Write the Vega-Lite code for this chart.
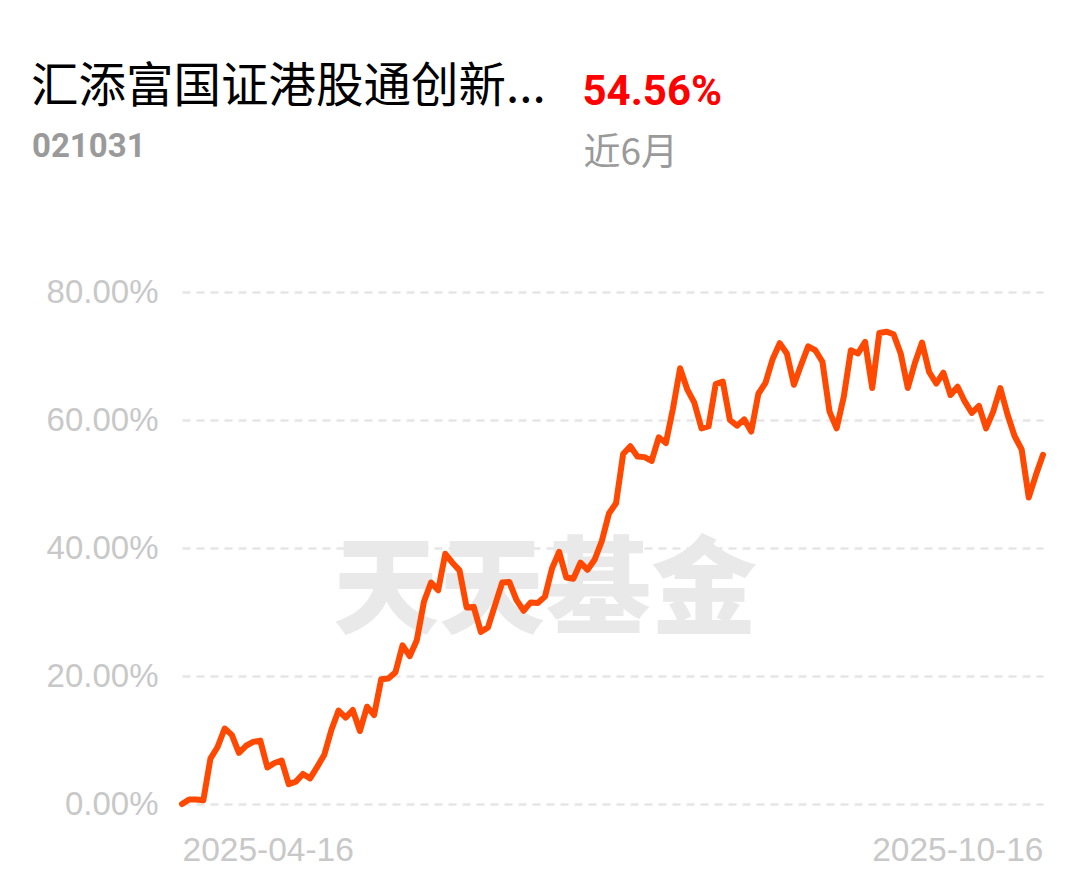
{
  "$schema": "https://vega.github.io/schema/vega-lite/v6.json",
  "width": 861,
  "height": 512,
  "autosize": {"type": "none"},
  "padding": {"left": 182, "top": 292, "right": 46, "bottom": 77},
  "background": "#ffffff",
  "config": {"view": {"stroke": null}},
  "datasets": {
    "nav": [
      {"d": "2025-04-16", "v": 0.0}, {"d": "2025-04-17", "v": 0.7}, {"d": "2025-04-18", "v": 0.7}, {"d": "2025-04-21", "v": 0.6},
      {"d": "2025-04-22", "v": 7.1}, {"d": "2025-04-23", "v": 8.9}, {"d": "2025-04-24", "v": 11.8}, {"d": "2025-04-25", "v": 10.8},
      {"d": "2025-04-28", "v": 8.0}, {"d": "2025-04-29", "v": 9.1}, {"d": "2025-04-30", "v": 9.7},
      {"d": "2025-05-06", "v": 9.9}, {"d": "2025-05-07", "v": 5.7}, {"d": "2025-05-08", "v": 6.4}, {"d": "2025-05-09", "v": 6.8},
      {"d": "2025-05-12", "v": 3.1}, {"d": "2025-05-13", "v": 3.5}, {"d": "2025-05-14", "v": 4.7}, {"d": "2025-05-15", "v": 4.0},
      {"d": "2025-05-16", "v": 5.8}, {"d": "2025-05-19", "v": 7.7}, {"d": "2025-05-20", "v": 11.6}, {"d": "2025-05-21", "v": 14.6},
      {"d": "2025-05-22", "v": 13.5}, {"d": "2025-05-23", "v": 14.7}, {"d": "2025-05-26", "v": 11.4}, {"d": "2025-05-27", "v": 15.2},
      {"d": "2025-05-28", "v": 13.9}, {"d": "2025-05-29", "v": 19.5}, {"d": "2025-05-30", "v": 19.6},
      {"d": "2025-06-03", "v": 20.6}, {"d": "2025-06-04", "v": 24.8}, {"d": "2025-06-05", "v": 23.1}, {"d": "2025-06-06", "v": 25.6},
      {"d": "2025-06-09", "v": 31.6}, {"d": "2025-06-10", "v": 34.6}, {"d": "2025-06-11", "v": 33.4}, {"d": "2025-06-12", "v": 39.1},
      {"d": "2025-06-13", "v": 37.7}, {"d": "2025-06-16", "v": 36.5}, {"d": "2025-06-17", "v": 30.7}, {"d": "2025-06-18", "v": 30.8},
      {"d": "2025-06-19", "v": 26.9}, {"d": "2025-06-20", "v": 27.6}, {"d": "2025-06-23", "v": 31.1}, {"d": "2025-06-24", "v": 34.6},
      {"d": "2025-06-25", "v": 34.7}, {"d": "2025-06-26", "v": 31.9}, {"d": "2025-06-27", "v": 30.2}, {"d": "2025-06-30", "v": 31.5},
      {"d": "2025-07-01", "v": 31.4}, {"d": "2025-07-02", "v": 32.4}, {"d": "2025-07-03", "v": 36.8}, {"d": "2025-07-04", "v": 39.4},
      {"d": "2025-07-07", "v": 35.4}, {"d": "2025-07-08", "v": 35.2}, {"d": "2025-07-09", "v": 37.7}, {"d": "2025-07-10", "v": 36.6},
      {"d": "2025-07-11", "v": 38.2}, {"d": "2025-07-14", "v": 41.1}, {"d": "2025-07-15", "v": 45.4}, {"d": "2025-07-16", "v": 47.0},
      {"d": "2025-07-17", "v": 54.7}, {"d": "2025-07-18", "v": 55.9}, {"d": "2025-07-21", "v": 54.3}, {"d": "2025-07-22", "v": 54.2},
      {"d": "2025-07-23", "v": 53.6}, {"d": "2025-07-24", "v": 57.3}, {"d": "2025-07-25", "v": 56.4}, {"d": "2025-07-28", "v": 61.8},
      {"d": "2025-07-29", "v": 68.1}, {"d": "2025-07-30", "v": 64.8}, {"d": "2025-07-31", "v": 62.7},
      {"d": "2025-08-01", "v": 58.7}, {"d": "2025-08-04", "v": 59.0}, {"d": "2025-08-05", "v": 65.6}, {"d": "2025-08-06", "v": 66.0},
      {"d": "2025-08-07", "v": 60.0}, {"d": "2025-08-08", "v": 59.1}, {"d": "2025-08-11", "v": 60.1}, {"d": "2025-08-12", "v": 58.2},
      {"d": "2025-08-13", "v": 64.1}, {"d": "2025-08-14", "v": 65.8}, {"d": "2025-08-15", "v": 69.5}, {"d": "2025-08-18", "v": 72.0},
      {"d": "2025-08-19", "v": 70.4}, {"d": "2025-08-20", "v": 65.5}, {"d": "2025-08-21", "v": 68.6}, {"d": "2025-08-22", "v": 71.5},
      {"d": "2025-08-25", "v": 70.9}, {"d": "2025-08-26", "v": 69.1}, {"d": "2025-08-27", "v": 61.3}, {"d": "2025-08-28", "v": 58.7},
      {"d": "2025-08-29", "v": 63.6},
      {"d": "2025-09-01", "v": 70.9}, {"d": "2025-09-02", "v": 70.4}, {"d": "2025-09-03", "v": 72.2}, {"d": "2025-09-04", "v": 65.0},
      {"d": "2025-09-05", "v": 73.6}, {"d": "2025-09-08", "v": 73.8}, {"d": "2025-09-09", "v": 73.4}, {"d": "2025-09-10", "v": 70.4},
      {"d": "2025-09-11", "v": 65.0}, {"d": "2025-09-12", "v": 68.9}, {"d": "2025-09-15", "v": 72.1}, {"d": "2025-09-16", "v": 67.5},
      {"d": "2025-09-17", "v": 65.7}, {"d": "2025-09-18", "v": 67.4}, {"d": "2025-09-19", "v": 63.9}, {"d": "2025-09-22", "v": 65.2},
      {"d": "2025-09-23", "v": 62.9}, {"d": "2025-09-24", "v": 61.1}, {"d": "2025-09-25", "v": 62.2}, {"d": "2025-09-26", "v": 58.7},
      {"d": "2025-09-29", "v": 61.3}, {"d": "2025-09-30", "v": 65.0},
      {"d": "2025-10-09", "v": 60.9}, {"d": "2025-10-10", "v": 57.5}, {"d": "2025-10-13", "v": 55.4}, {"d": "2025-10-14", "v": 47.9},
      {"d": "2025-10-15", "v": 51.4}, {"d": "2025-10-16", "v": 54.56}
    ]
  },
  "layer": [
    {
      "data": {"values": [{"label": "天天基金"}]},
      "mark": {"type": "text", "font": "Noto Sans CJK SC", "fontWeight": 900, "fontSize": 106, "color": "#e9e9e9", "align": "center", "baseline": "middle"},
      "encoding": {
        "x": {"datum": "2025-07-02", "type": "ordinal"},
        "y": {"datum": 33.0, "type": "quantitative"},
        "text": {"field": "label"}
      }
    },
    {
      "data": {"name": "nav"},
      "mark": {"type": "line", "color": "#ff4800", "strokeWidth": 6, "strokeJoin": "round", "strokeCap": "round"},
      "encoding": {
        "x": {
          "field": "d",
          "type": "ordinal",
          "scale": {"type": "point", "padding": 0},
          "axis": {
            "values": ["2025-04-16", "2025-10-16"],
            "title": null,
            "domain": false,
            "ticks": false,
            "grid": false,
            "labelAngle": 0,
            "labelAlign": {"expr": "datum.value == '2025-04-16' ? 'left' : 'right'"},
            "labelFont": "Liberation Sans",
            "labelFontSize": 33.5,
            "labelColor": "#c8c8c8",
            "labelPadding": 46
          }
        },
        "y": {
          "field": "v",
          "type": "quantitative",
          "scale": {"domain": [0, 80], "nice": false, "zero": false},
          "axis": {
            "values": [0, 20, 40, 60, 80],
            "title": null,
            "domain": false,
            "ticks": false,
            "labelExpr": "format(datum.value, '.2f') + '%'",
            "labelFont": "Liberation Sans",
            "labelFontSize": 33,
            "labelColor": "#c8c8c8",
            "labelPadding": 24,
            "grid": true,
            "gridColor": "#e6e6e6",
            "gridWidth": 2.5,
            "gridDash": [8, 6]
          }
        }
      }
    },
    {
      "data": {"values": [{"label": "汇添富国证港股通创新..."}]},
      "mark": {"type": "text", "font": "Noto Sans CJK SC", "fontSize": 47.5, "color": "#000000", "align": "left", "baseline": "alphabetic", "dx": -151},
      "encoding": {
        "x": {"datum": "2025-04-16", "type": "ordinal"},
        "y": {"datum": 109.7, "type": "quantitative"},
        "text": {"field": "label"}
      }
    },
    {
      "data": {"values": [{"label": "021031"}]},
      "mark": {"type": "text", "font": "Roboto", "fontWeight": "bold", "fontSize": 33, "color": "#9a9a9a", "align": "left", "baseline": "alphabetic", "dx": -150},
      "encoding": {
        "x": {"datum": "2025-04-16", "type": "ordinal"},
        "y": {"datum": 101.1, "type": "quantitative"},
        "text": {"field": "label"}
      }
    },
    {
      "data": {"values": [{"label": "54.56%"}]},
      "mark": {"type": "text", "font": "Roboto", "fontWeight": "bold", "fontSize": 42, "color": "#ff0000", "align": "left", "baseline": "alphabetic", "dx": 2},
      "encoding": {
        "x": {"datum": "2025-07-09", "type": "ordinal"},
        "y": {"datum": 109.2, "type": "quantitative"},
        "text": {"field": "label"}
      }
    },
    {
      "data": {"values": [{"label": "近6月"}]},
      "mark": {"type": "text", "font": "Noto Sans CJK SC", "fontSize": 37, "color": "#9a9a9a", "align": "left", "baseline": "alphabetic", "dx": 3},
      "encoding": {
        "x": {"datum": "2025-07-09", "type": "ordinal"},
        "y": {"datum": 99.84, "type": "quantitative"},
        "text": {"field": "label"}
      }
    }
  ]
}
